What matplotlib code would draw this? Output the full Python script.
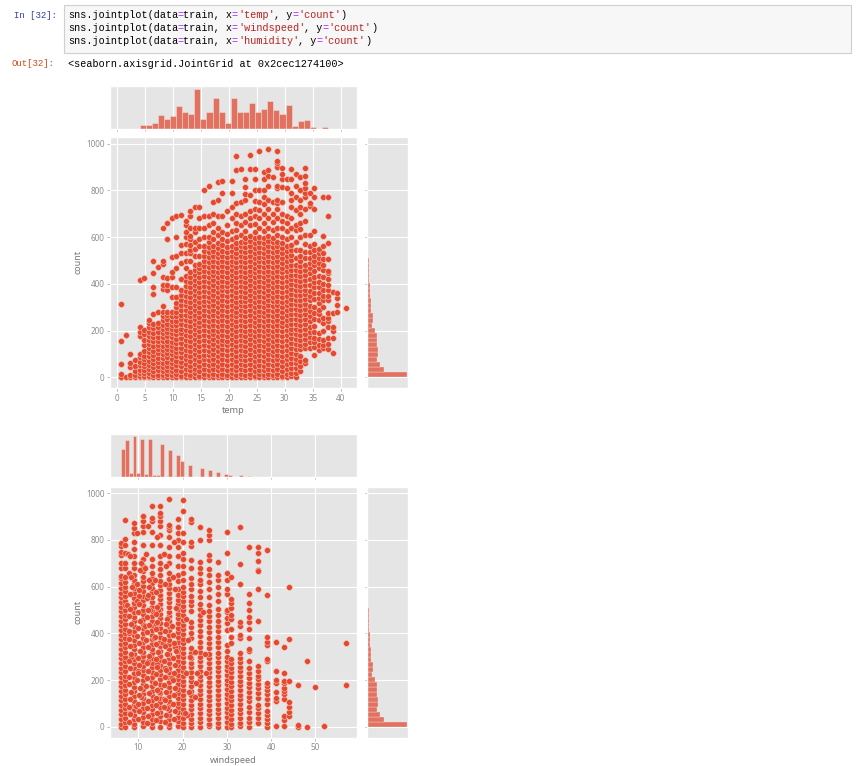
import numpy as np
import matplotlib
matplotlib.use('Agg')
import matplotlib.pyplot as plt
from matplotlib.patches import Rectangle

plt.style.use('ggplot')

W, H = 857, 766

# temp: one list of counts per temperature column
temp_vals = [0.82, 1.64, 2.46, 3.28, 4.1, 4.92, 5.74, 6.56, 7.38, 8.2, 9.02, 9.84, 10.66, 11.48,
             12.3, 13.12, 13.94, 14.76, 15.58, 16.4, 17.22, 18.04, 18.86, 19.68, 20.5, 21.32,
             22.14, 22.96, 23.78, 24.6, 25.42, 26.24, 27.06, 27.88, 28.7, 29.52, 30.34, 31.16,
             31.98, 32.8, 33.62, 34.44, 35.26, 36.08, 36.9, 37.72, 38.54, 39.36, 41.0]
temp_counts = [
    [1, 3, 14, 57, 155, 316],
    [3, 181],
    [4, 10, 44, 64, 100],
    [2, 9, 28, 48, 75],
    [2, 8, 20, 34, 52, 68, 86, 100, 178, 196, 214, 418],
    [1, 6, 17, 31, 47, 62, 78, 93, 115, 138, 160, 185, 205, 425],
    [1, 7, 20, 37, 54, 72, 90, 108, 126, 143, 160, 178, 196, 215, 232, 245],
    [1, 9, 26, 45, 62, 80, 98, 115, 135, 155, 172, 190, 212, 230, 272, 355, 385, 445, 500],
    [2, 12, 30, 48, 66, 85, 103, 120, 138, 158, 175, 195, 215, 232, 280, 472],
    [1, 10, 28, 46, 64, 82, 100, 118, 136, 154, 172, 190, 208, 226, 244, 262, 280, 305, 380, 395, 430, 485, 500, 638],
    [2, 13, 31, 49, 68, 86, 104, 122, 140, 158, 176, 194, 212, 230, 250, 268, 280, 375, 395, 425, 590, 660],
    [1, 9, 27, 45, 63, 81, 99, 117, 135, 153, 171, 189, 207, 225, 243, 261, 278, 345, 385, 430, 450, 515, 680],
    [3, 14, 33, 52, 71, 90, 109, 128, 147, 166, 185, 204, 223, 242, 261, 280, 300, 320, 345, 385, 470, 520, 600, 690],
    [1, 8, 28, 48, 68, 88, 108, 128, 148, 168, 188, 208, 228, 248, 268, 288, 308, 330, 352, 376, 420, 490, 530, 565, 695],
    [2, 15, 35, 56, 77, 98, 119, 140, 161, 182, 203, 224, 245, 266, 287, 308, 329, 350, 371, 392, 413, 434, 470, 500, 530, 570, 600, 620, 650, 670],
    [1, 10, 30, 51, 72, 93, 114, 135, 156, 177, 198, 219, 240, 261, 282, 303, 324, 345, 366, 387, 408, 430, 452, 500, 530, 545, 565, 590, 605, 640, 690, 710],
    [3, 17, 38, 59, 80, 101, 122, 143, 164, 185, 206, 227, 248, 269, 290, 311, 332, 353, 374, 395, 416, 437, 458, 480, 520, 550, 580, 620, 640, 730],
    [1, 8, 29, 50, 71, 92, 113, 134, 155, 176, 197, 218, 239, 260, 281, 302, 323, 344, 365, 386, 407, 428, 449, 470, 485, 520, 560, 590, 640, 680, 730],
    [2, 14, 35, 56, 77, 98, 119, 140, 161, 182, 203, 224, 245, 266, 287, 308, 329, 350, 371, 392, 413, 434, 455, 476, 497, 518, 540, 562, 600, 640, 690, 800],
    [1, 10, 31, 52, 73, 94, 115, 136, 157, 178, 199, 220, 241, 262, 283, 304, 325, 346, 367, 388, 409, 430, 451, 472, 493, 514, 535, 556, 580, 600, 650, 690, 820],
    [3, 16, 37, 58, 79, 100, 121, 142, 163, 184, 205, 226, 247, 268, 289, 310, 331, 352, 373, 394, 415, 436, 457, 478, 499, 520, 541, 562, 590, 622, 660, 700, 750],
    [1, 9, 30, 51, 72, 93, 114, 135, 156, 177, 198, 219, 240, 261, 282, 303, 324, 345, 366, 387, 408, 429, 450, 471, 492, 513, 534, 555, 576, 610, 640, 690, 760, 835],
    [2, 15, 36, 57, 78, 99, 120, 141, 162, 183, 204, 225, 246, 267, 288, 309, 330, 351, 372, 393, 414, 435, 456, 477, 498, 519, 540, 565, 590, 620, 690, 790, 838],
    [1, 11, 32, 53, 74, 95, 116, 137, 158, 179, 200, 221, 242, 263, 284, 305, 326, 347, 368, 389, 410, 431, 452, 473, 494, 515, 536, 557, 585, 615, 650, 710],
    [3, 17, 38, 59, 80, 101, 122, 143, 164, 185, 206, 227, 248, 269, 290, 311, 332, 353, 374, 395, 416, 437, 458, 479, 500, 521, 542, 563, 590, 625, 680, 730, 790, 840],
    [1, 9, 30, 51, 72, 93, 114, 135, 156, 177, 198, 219, 240, 261, 282, 303, 324, 345, 366, 387, 408, 429, 450, 471, 492, 513, 534, 555, 576, 600, 630, 660, 700, 745, 885, 945],
    [2, 14, 35, 56, 77, 98, 119, 140, 161, 182, 203, 224, 245, 266, 287, 308, 329, 350, 371, 392, 413, 434, 455, 476, 497, 518, 539, 560, 581, 610, 650, 690, 750, 890],
    [1, 10, 31, 52, 73, 94, 115, 136, 157, 178, 199, 220, 241, 262, 283, 304, 325, 346, 367, 388, 409, 430, 451, 472, 493, 514, 535, 556, 577, 598, 625, 665, 700, 760, 785, 815, 850],
    [3, 16, 37, 58, 79, 100, 121, 142, 163, 184, 205, 226, 247, 268, 289, 310, 331, 352, 373, 394, 415, 436, 457, 478, 499, 520, 541, 562, 583, 604, 650, 680, 710, 780, 890, 950],
    [1, 8, 29, 50, 71, 92, 113, 134, 155, 176, 197, 218, 239, 260, 281, 302, 323, 344, 365, 386, 407, 428, 449, 470, 491, 512, 533, 554, 575, 596, 622, 655, 690, 720, 755, 800, 850, 890],
    [2, 13, 34, 55, 76, 97, 118, 139, 160, 181, 202, 223, 244, 265, 286, 307, 328, 349, 370, 391, 412, 433, 454, 475, 496, 517, 538, 559, 580, 601, 640, 680, 715, 750, 800, 970],
    [1, 9, 30, 51, 72, 93, 114, 135, 156, 177, 198, 219, 240, 261, 282, 303, 324, 345, 366, 387, 408, 429, 450, 471, 492, 513, 534, 555, 576, 597, 625, 660, 700, 740, 770, 800, 850, 880],
    [3, 16, 37, 58, 79, 100, 121, 142, 163, 184, 205, 226, 247, 268, 289, 310, 331, 352, 373, 394, 415, 436, 457, 478, 499, 520, 541, 562, 583, 604, 640, 680, 720, 760, 820, 860, 885, 975],
    [1, 10, 31, 52, 73, 94, 115, 136, 157, 178, 199, 220, 241, 262, 283, 304, 325, 346, 367, 388, 409, 430, 451, 472, 493, 514, 535, 556, 577, 598, 630, 665, 700, 750, 855],
    [2, 14, 35, 56, 77, 98, 119, 140, 161, 182, 203, 224, 245, 266, 287, 308, 329, 350, 371, 392, 413, 434, 455, 476, 497, 518, 539, 560, 581, 610, 640, 680, 720, 745, 760, 810, 820, 900, 915, 925, 970],
    [1, 8, 29, 50, 71, 92, 113, 134, 155, 176, 197, 218, 239, 260, 281, 302, 323, 344, 365, 386, 407, 428, 449, 470, 491, 512, 533, 554, 575, 600, 640, 670, 700, 750, 815, 850, 870, 895],
    [3, 14, 35, 56, 77, 98, 119, 140, 161, 182, 203, 224, 245, 266, 287, 308, 329, 350, 371, 392, 413, 434, 455, 476, 497, 518, 539, 560, 590, 625, 660, 690, 810, 850],
    [5, 20, 41, 62, 83, 104, 125, 146, 167, 188, 209, 230, 251, 272, 293, 314, 335, 356, 377, 398, 419, 440, 461, 482, 503, 524, 545, 566, 600, 640, 680, 730, 760, 790, 850, 890],
    [2, 18, 39, 60, 81, 102, 123, 144, 165, 186, 207, 228, 249, 270, 291, 312, 333, 354, 375, 396, 417, 438, 459, 480, 510, 545, 580, 630, 650, 715, 770, 820, 870],
    [28, 50, 70, 90, 120, 140, 160, 182, 204, 225, 246, 267, 288, 309, 330, 351, 372, 393, 414, 435, 456, 477, 498, 520, 545, 600, 635, 660, 700, 730, 760, 800, 855],
    [60, 75, 125, 145, 166, 187, 208, 229, 250, 271, 292, 313, 334, 355, 376, 397, 418, 439, 460, 481, 510, 535, 570, 610, 670, 720, 770, 790, 810, 830, 860, 895],
    [125, 150, 175, 195, 215, 240, 262, 285, 305, 330, 350, 370, 395, 420, 445, 470, 490, 510, 535, 560, 610, 735, 745, 790],
    [95, 130, 150, 170, 195, 220, 250, 275, 300, 335, 360, 385, 410, 430, 455, 480, 500, 520, 545, 570, 625, 720, 770, 810],
    [118, 140, 165, 190, 245, 270, 290, 320, 340, 360, 385, 410, 435, 470, 490, 510, 530, 550],
    [125, 140, 160, 200, 235, 255, 300, 330, 350, 375, 400, 430, 460, 480, 505, 530, 560, 605, 770],
    [120, 145, 170, 215, 240, 255, 275, 330, 350, 375, 395, 420, 445, 455, 505, 575, 690, 770],
    [105, 170, 200, 215, 275, 365],
    [280, 310, 340, 360],
    [295],
]

# windspeed: one list of counts per wind column, plus the points off the columns
wind_vals = [6, 7, 9, 11, 13, 15, 17, 19, 20, 22, 24, 26, 28, 30, 31, 33, 35, 37, 39, 41, 43, 44, 46, 48, 50, 52, 57]
wind_counts = [
    [1, 14, 34, 54, 74, 94, 114, 134, 154, 174, 194, 214, 234, 254, 274, 294, 314, 334, 354, 374, 394, 414, 434, 454, 474, 494, 514, 534, 554, 574, 594, 614, 635, 645, 680, 700, 735, 750, 775, 785],
    [2, 20, 40, 60, 80, 100, 120, 140, 160, 180, 200, 220, 240, 260, 280, 300, 320, 340, 360, 380, 400, 420, 440, 460, 480, 500, 520, 540, 560, 580, 600, 620, 640, 680, 700, 745, 780, 805, 885],
    [1, 12, 32, 52, 72, 92, 112, 132, 152, 172, 192, 212, 232, 252, 272, 292, 312, 332, 352, 372, 392, 412, 432, 452, 472, 492, 512, 532, 552, 572, 592, 612, 630, 650, 680, 700, 730, 760, 790, 830, 850, 870],
    [3, 22, 42, 62, 82, 102, 122, 142, 162, 182, 202, 222, 242, 262, 282, 302, 322, 342, 362, 382, 402, 422, 442, 462, 482, 502, 522, 542, 562, 582, 602, 622, 643, 666, 690, 720, 780, 835, 860, 880, 900],
    [1, 15, 35, 55, 75, 95, 115, 135, 155, 175, 195, 215, 235, 255, 275, 295, 315, 335, 355, 375, 395, 415, 435, 455, 475, 495, 515, 535, 555, 575, 595, 615, 636, 659, 690, 720, 780, 835, 880, 895, 945],
    [2, 25, 45, 65, 85, 105, 125, 145, 165, 185, 205, 225, 245, 265, 285, 305, 325, 345, 365, 385, 405, 425, 445, 465, 485, 505, 525, 545, 565, 585, 605, 625, 650, 675, 700, 730, 780, 820, 860, 880, 900, 915, 945],
    [1, 13, 33, 53, 73, 93, 113, 133, 153, 173, 193, 213, 233, 253, 273, 293, 313, 333, 353, 373, 393, 413, 433, 453, 473, 493, 513, 533, 553, 573, 593, 613, 634, 660, 700, 730, 770, 810, 840, 855, 865, 975],
    [3, 24, 44, 64, 84, 104, 124, 144, 164, 184, 204, 224, 244, 264, 284, 304, 324, 344, 364, 384, 404, 424, 444, 464, 484, 504, 524, 544, 564, 590, 625, 650, 690, 730, 770, 800, 830, 855, 890],
    [1, 18, 38, 58, 78, 98, 118, 138, 158, 178, 198, 218, 238, 258, 278, 298, 318, 338, 358, 378, 398, 418, 438, 458, 478, 498, 518, 538, 558, 578, 600, 630, 660, 690, 720, 745, 790, 830, 925, 970],
    [2, 15, 35, 55, 75, 95, 115, 135, 155, 175, 195, 215, 235, 255, 275, 295, 315, 337, 380, 403, 426, 449, 495, 520, 540, 560, 590, 610, 635, 680, 715, 775, 790, 875, 890],
    [1, 20, 40, 60, 80, 100, 120, 140, 160, 180, 200, 220, 240, 260, 280, 300, 320, 342, 365, 388, 411, 434, 457, 480, 503, 526, 555, 580, 610, 630, 660, 680, 705, 800, 855],
    [3, 14, 34, 54, 74, 94, 114, 134, 154, 174, 194, 214, 234, 254, 274, 294, 314, 336, 359, 382, 405, 428, 451, 474, 497, 520, 555, 590, 620, 650, 675, 715, 735, 800, 820, 840],
    [1, 18, 38, 58, 78, 98, 118, 138, 158, 178, 198, 218, 238, 258, 278, 298, 318, 340, 363, 386, 409, 432, 455, 478, 505, 540, 570, 600, 630, 650, 705],
    [2, 22, 42, 62, 82, 102, 122, 142, 162, 182, 202, 222, 242, 262, 282, 298, 325, 350, 415, 445, 465, 490, 500, 570, 590, 630, 660, 745, 835],
    [1, 14, 34, 54, 74, 94, 114, 134, 154, 174, 194, 214, 234, 254, 274, 290, 360, 385, 420, 460, 480, 510, 530, 545, 640],
    [3, 18, 38, 58, 78, 98, 118, 138, 158, 178, 198, 218, 238, 258, 278, 295, 315, 380, 395, 430, 450, 610, 695, 855],
    [1, 20, 40, 62, 85, 110, 130, 150, 170, 190, 210, 230, 250, 280, 325, 335, 380, 420, 450, 470, 500, 530, 570, 770],
    [18, 40, 60, 80, 95, 125, 145, 165, 185, 205, 220, 240, 260, 455, 590, 670, 665, 710, 745, 770],
    [1, 15, 35, 50, 70, 100, 120, 140, 160, 175, 190, 280, 290, 350, 365, 385, 565, 755],
    [5, 110, 125, 150, 190, 200, 240, 365],
    [5, 30, 45, 120, 140, 155, 165, 190, 195, 230, 340],
    [45, 65, 85, 105, 195, 375, 600],
    [0, 10, 180],
    [0, 280],
    [170],
    [5],
    [180, 360],
]
off_x = [7.6, 8.2, 7.8, 8.4, 9.6, 10.0, 8.6, 7.5, 8.0, 9.8, 10.2, 10.4, 9.7, 10.5, 8.3, 12.2, 11.8, 12.5, 11.6,
         12.0, 12.4, 12.7, 11.4, 12.1, 14.2, 13.8, 14.5, 14.0, 13.6, 14.3, 13.7, 14.7, 16.0, 15.8, 16.3, 16.5, 15.6,
         16.1, 15.7, 16.4, 18.0, 17.8, 18.2, 18.5, 17.6, 18.3, 17.7, 10.6, 9.5, 8.1, 20.8, 21.2, 21.6, 20.7, 21.5,
         22.8, 23.2, 25.0, 24.7, 25.3, 21.0, 23.0, 22.7, 20.6,
         8.0, 8.2, 7.9, 8.1, 8.3, 7.8, 8.0, 8.2, 7.9, 8.4, 8.1, 7.8, 8.0, 8.3, 7.9, 8.2, 8.1,
         10.0, 10.2, 9.9, 10.1, 10.3, 9.8, 10.0, 10.2, 9.9, 10.4, 10.1, 9.8, 10.0, 10.3, 9.9, 10.2, 10.1,
         12.0, 12.2, 11.9, 12.1, 12.3, 11.8, 12.0, 12.2, 11.9, 12.4, 12.1, 11.8, 12.0, 12.3, 11.9, 12.2, 12.1,
         14.0, 14.2, 13.9, 14.1, 14.3, 13.8, 14.0, 14.2, 13.9, 14.4, 14.1, 13.8, 14.0, 14.3, 13.9, 14.2, 14.1,
         16.0, 16.2, 15.9, 16.1, 16.3, 15.8, 16.0, 16.2, 15.9, 16.4, 16.1, 15.8, 16.0, 16.3,
         18.0, 18.2, 17.9, 18.1, 18.3, 17.8, 18.0, 18.2, 17.9, 18.4, 18.1, 17.8]
off_y = [740, 730, 660, 640, 830, 240, 600, 520, 400, 610, 560, 670, 540, 700, 300, 860, 740, 630, 680,
         550, 600, 500, 430, 280, 810, 630, 500, 440, 380, 270, 190, 150, 610, 740, 690, 460, 360,
         250, 120, 80, 790, 640, 590, 510, 430, 340, 210, 130, 90, 60, 460, 370, 300, 230, 150,
         320, 230, 310, 490, 230, 50, 190, 130, 60,
         20, 55, 85, 120, 150, 185, 215, 250, 280, 310, 345, 375, 410, 440, 475, 505, 570,
         35, 70, 100, 135, 165, 200, 230, 265, 295, 325, 360, 390, 425, 455, 490, 525, 585,
         15, 45, 80, 110, 145, 175, 210, 240, 275, 305, 340, 370, 405, 435, 470, 500, 565,
         30, 60, 95, 125, 160, 190, 225, 255, 290, 320, 355, 385, 420, 450, 485, 515, 575,
         20, 50, 85, 115, 150, 180, 215, 245, 280, 310, 345, 375, 410, 440,
         35, 70, 100, 135, 165, 200, 230, 265, 295, 325, 360, 395]

# marginal histogram heights
temp_hist = [1, 1, 1, 12, 12, 17, 43, 31, 38, 70, 50, 45, 120, 31, 52, 93, 52, 19, 93, 52, 52, 78, 52, 59,
             84, 56, 45, 71, 9, 24, 27, 7, 1, 7, 0, 1, 1]
wind_hist = [85, 110, 11, 122, 12, 115, 8, 113, 6, 6, 100, 4, 80, 2, 67, 47, 1, 35, 1, 1, 26, 1, 21, 0, 16, 0,
             8, 5, 0, 0, 6, 0, 4, 0, 1, 0, 1, 0, 0, 1, 0, 1, 0, 0, 0, 0, 0, 0, 0, 0, 0, 0, 0, 0, 0, 0, 0]
count_hist = [120, 50, 38, 30, 33, 33, 29, 29, 29, 24, 16, 19, 18, 12, 12, 13, 8, 8, 8, 5, 6, 5, 5, 5, 3, 2.5,
              2, 2, 1.5, 1.5, 1, 1, 1, 1, 0.5, 0.5, 0.5, 0.5, 0.5, 0.3, 0.3, 0.3, 0.2, 0.2, 0.1, 0.2]

code_lines = [
    [('sns.jointplot(data', '#000000'), ('=', '#AA22FF'), ('train, x', '#000000'), ('=', '#AA22FF'), ("'temp'", '#BA2121'),
     (', y', '#000000'), ('=', '#AA22FF'), ("'count'", '#BA2121'), (')', '#000000')],
    [('sns.jointplot(data', '#000000'), ('=', '#AA22FF'), ('train, x', '#000000'), ('=', '#AA22FF'), ("'windspeed'", '#BA2121'),
     (', y', '#000000'), ('=', '#AA22FF'), ("'count'", '#BA2121'), (')', '#000000')],
    [('sns.jointplot(data', '#000000'), ('=', '#AA22FF'), ('train, x', '#000000'), ('=', '#AA22FF'), ("'humidity'", '#BA2121'),
     (', y', '#000000'), ('=', '#AA22FF'), ("'count'", '#BA2121'), (')', '#000000')],
]
out_text = '<seaborn.axisgrid.JointGrid at 0x2cec1274100>'


def px_axes(fig, left, top, right, bottom):
    return fig.add_axes([left / W, 1 - bottom / H, (right - left) / W, (bottom - top) / H])


def draw_joint(fig, hist_top, main_top, xs, cols, xlim, xticks, xlabel, xhist, xmin, xmax, extra=None):
    ax = px_axes(fig, 110, main_top, 357, main_top + 251)
    ax_top = px_axes(fig, 110, hist_top, 357, hist_top + 43)
    ax_right = px_axes(fig, 367, main_top, 408, main_top + 251)

    px = [x for x, c in zip(xs, cols) for _ in c]
    py = [v for c in cols for v in c]
    if extra is not None:
        px += extra[0]
        py += extra[1]
    ax.scatter(px, py, s=18, color='#E4492F', edgecolor='#F7C4B8', linewidth=0.4)
    ax.set_xlim(xlim)
    ax.set_ylim(-45, 1028)
    ax.set_xticks(xticks)
    ax.set_yticks([0, 200, 400, 600, 800, 1000])
    ax.set_xlabel(xlabel, fontsize=6.6, color='#777777', labelpad=2.5)
    ax.set_ylabel('count', fontsize=6.4, color='#777777', labelpad=2.5)
    ax.tick_params(labelsize=5.8, length=2, width=0.5, color='#999999', labelcolor='#8C8C8C', pad=2)

    edges = np.linspace(xmin, xmax, len(xhist) + 1)
    ax_top.bar(edges[:-1], xhist, width=np.diff(edges), align='edge', color='#E24A33', alpha=0.75,
               edgecolor='#EEEEEE', linewidth=0.4)
    ax_top.set_xlim(xlim)
    ax_top.set_ylim(0, 129)
    ax_top.set_xticks(xticks)
    ax_top.set_yticks([])
    ax_top.tick_params(labelbottom=False, length=1.5, width=0.5, colors='#999999')

    y_edges = np.linspace(1, 977, len(count_hist) + 1)
    ax_right.barh(y_edges[:-1], count_hist, height=np.diff(y_edges), align='edge', color='#E24A33', alpha=0.75,
                  edgecolor='#EEEEEE', linewidth=0.3)
    ax_right.set_xlim(0, 123)
    ax_right.set_ylim(-45, 1028)
    ax_right.set_yticks([0, 200, 400, 600, 800, 1000])
    ax_right.set_xticks([])
    ax_right.tick_params(labelleft=False, length=1.5, width=0.5, colors='#999999')


def main():
    fig = plt.figure(figsize=(W / 100, H / 100), dpi=100, facecolor='white')

    # notebook input cell
    fig.add_artist(Rectangle((63.5 / W, 1 - 52.5 / H), 787.5 / W, 48 / H, transform=fig.transFigure,
                             facecolor='#F7F7F7', edgecolor='#CFCFCF', linewidth=0.8))
    fig.text(13.5 / W, 1 - 15 / H, 'In [32]:', family='Liberation Mono', fontsize=6.5, color='#303F9F', va='center')
    fig.text(12 / W, 1 - 64 / H, 'Out[32]:', family='Liberation Mono', fontsize=6.5, color='#D84315', va='center')
    char_w = 6.05
    for i, line in enumerate(code_lines):
        x = 68.5
        for seg, col in line:
            fig.text(x / W, 1 - (15 + 13 * i) / H, seg, family='Liberation Mono', fontsize=7.25, color=col, va='center')
            x += len(seg) * char_w
    fig.text(68.5 / W, 1 - 64 / H, out_text, family='Liberation Mono', fontsize=7.25, color='#000000', va='center')

    plt.rcParams['font.family'] = 'Noto Sans'
    draw_joint(fig, 86, 137, temp_vals, temp_counts, (-1.2, 42.9), [0, 5, 10, 15, 20, 25, 30, 35, 40], 'temp',
               temp_hist, 0.82, 41.0)
    draw_joint(fig, 434, 486.5, wind_vals, wind_counts, (3.6, 59.4), [10, 20, 30, 40, 50], 'windspeed',
               wind_hist, 6.0, 57.0, extra=(off_x, off_y))

    fig.savefig('out.png', dpi=100, facecolor='white')


if __name__ == "__main__":
    main()
